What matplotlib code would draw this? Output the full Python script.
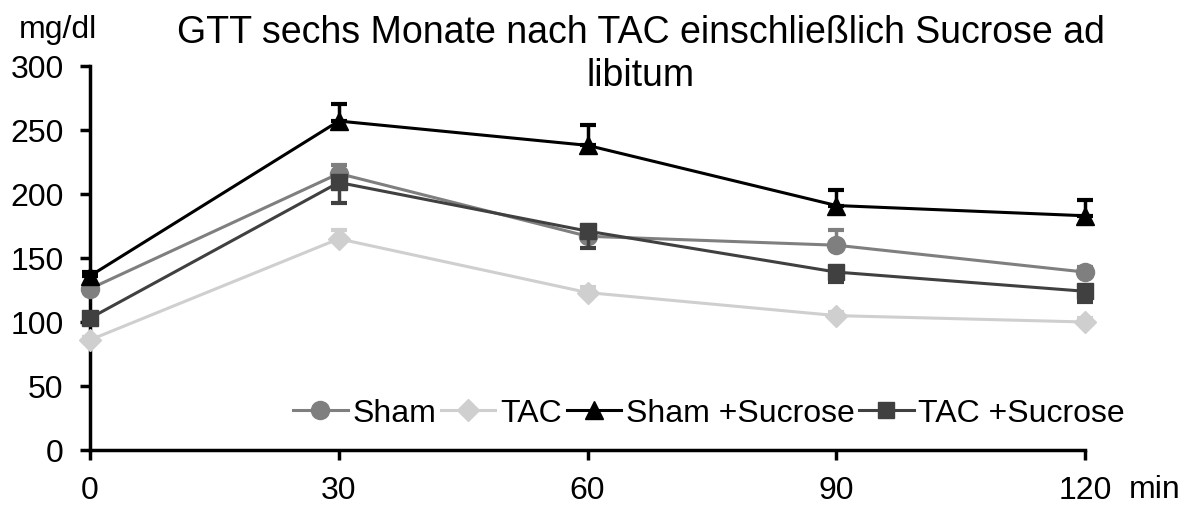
import matplotlib
matplotlib.use("Agg")
import matplotlib.pyplot as plt
import numpy as np

plt.rcParams['font.family'] = ['Liberation Sans', 'DejaVu Sans']

times = [0, 30, 60, 90, 120]
x_ticks = [0, 30, 60, 90, 120]
y_ticks = [0, 50, 100, 150, 200, 250, 300]

sham = [126, 216, 167, 160, 139]
sham_err = [3, 7, 5, 12, 4]
tac = [86, 165, 123, 105, 100]
tac_err = [2, 7, 4, 3, 3]
sham_suc = [136, 257, 238, 191, 183]
sham_suc_err = [3, 13, 16, 12, 12]
tac_suc = [103, 209, 171, 139, 124]
tac_suc_err = [4, 16, 13, 8, 8]

series = [
    ("Sham", sham, sham_err, "#7f7f7f", "o", 1, 13),
    ("TAC", tac, tac_err, "#cfcfcf", "D", 1, 11),
    ("Sham +Sucrose", sham_suc, sham_suc_err, "#000000", "^", 1, 13),
    ("TAC +Sucrose", tac_suc, tac_suc_err, "#404040", "s", -1, 12),
]

fig = plt.figure(figsize=(11.86, 5.07), dpi=100)
ax = fig.add_axes([0.0759, 0.1124, 0.8391, 0.7574])

order = [1, 0, 3, 2]
handles = {}
for i in order:
    name, vals, err, col, mk, direction, ms = series[i]
    if direction > 0:
        yerr = [np.zeros(len(err)), err]
    else:
        yerr = [err, np.zeros(len(err))]
    ax.errorbar(times, vals, yerr=yerr, fmt='none', ecolor=col, elinewidth=2.5,
                capsize=6, capthick=3, zorder=2 + i)
    h, = ax.plot(times, vals, color=col, lw=2.2, marker=mk, markersize=ms,
                 markeredgecolor=col, markerfacecolor=col, zorder=3 + i, label=name)
    handles[i] = h

ax.set_xlim(0, 120)
ax.set_ylim(0, 300)
ax.set_xticks(x_ticks)
ax.set_yticks(y_ticks)
ax.set_xticklabels([str(v) for v in x_ticks])
ax.set_yticklabels([str(v) for v in y_ticks])
for s in ["top", "right"]:
    ax.spines[s].set_visible(False)
for s in ["left", "bottom"]:
    ax.spines[s].set_linewidth(2.5)
ax.tick_params(axis='both', direction='out', length=7, width=2.5, labelsize=23)
ax.tick_params(axis='x', pad=12)
ax.tick_params(axis='y', pad=12)
for ln in ax.lines:
    ln.set_clip_on(False)
for c in ax.collections:
    c.set_clip_on(False)

leg = ax.legend([handles[i] for i in range(4)], [series[i][0] for i in range(4)],
                loc='center right', bbox_to_anchor=(1.040, 0.095), ncol=4, frameon=False,
                fontsize=23, handlelength=1.7, handletextpad=0.15, columnspacing=0.15,
                borderaxespad=0, borderpad=0)

fig.text(0.540, 0.935, "GTT sechs Monate nach TAC einschließlich Sucrose ad",
         ha='center', va='center', fontsize=27)
fig.text(0.540, 0.850, "libitum", ha='center', va='center', fontsize=27)
fig.text(0.049, 0.940, "mg/dl", ha='center', va='center', fontsize=23)
fig.text(0.974, 0.033, "min", ha='center', va='center', fontsize=23)

fig.savefig("out.png", dpi=100)
